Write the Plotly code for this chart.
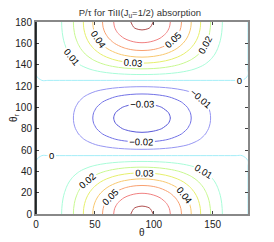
import plotly.graph_objects as go

# grid angles (degrees)
theta = list(range(0, 181, 5))
theta_r = list(range(0, 181, 5))

# theta dependence (normalised, peak at 90 deg)
shape_theta = [0.0000, 0.0076, 0.0302, 0.0670, 0.1170, 0.1786, 0.2500, 0.3290, 0.4132,
               0.5000, 0.5868, 0.6710, 0.7500, 0.8214, 0.8830, 0.9330, 0.9698, 0.9924,
               1.0000,
               0.9924, 0.9698, 0.9330, 0.8830, 0.8214, 0.7500, 0.6710, 0.5868, 0.5000,
               0.4132, 0.3290, 0.2500, 0.1786, 0.1170, 0.0670, 0.0302, 0.0076, 0.0000]

# theta_r dependence (positive near poles, zero near 55/125, negative in middle)
shape_theta_r = [1.0000, 0.9886, 0.9547, 0.8995, 0.8245, 0.7321, 0.6250, 0.5065, 0.3802,
                 0.2500, 0.1198, -0.0065, -0.1250, -0.2321, -0.3245, -0.3995, -0.4547,
                 -0.4886, -0.5000,
                 -0.4886, -0.4547, -0.3995, -0.3245, -0.2321, -0.1250, -0.0065, 0.1198,
                 0.2500, 0.3802, 0.5065, 0.6250, 0.7321, 0.8245, 0.8995, 0.9547, 0.9886,
                 1.0000]

peak = 0.072

z = [[peak * a * b for a in shape_theta] for b in shape_theta_r]

levels = [-0.03, -0.02, -0.01, 0.0, 0.01, 0.02, 0.03, 0.04, 0.05, 0.06, 0.07]
level_colors = ["#5858d8", "#7272e6", "#9696f2", "#a4eef8", "#a8fcd8", "#c8f890",
                "#e6ef6c", "#f8c870", "#f8a070", "#f08080", "#b05050"]
lo, hi = levels[0], levels[-1]
colorscale = [[(lv - lo) / (hi - lo), c] for lv, c in zip(levels, level_colors)]

xticks = [0, 50, 100, 150]
yticks = [0, 20, 40, 60, 80, 100, 120, 140, 160, 180]

fig = go.Figure()
fig.add_trace(go.Contour(
    x=theta, y=theta_r, z=z,
    contours=dict(start=lo, end=hi, size=0.01, coloring="lines", showlabels=True,
                  labelfont=dict(size=9.5, color="black", family="Liberation Sans")),
    colorscale=colorscale, zmin=lo, zmax=hi,
    line=dict(width=1, smoothing=1),
    showscale=False, hoverinfo="skip",
))

font = dict(family="Liberation Sans, Arial, sans-serif", size=10, color="#222")
fig.update_layout(
    width=274, height=242,
    margin=dict(l=28, r=34, t=14, b=36, autoexpand=False),
    paper_bgcolor="white", plot_bgcolor="white",
    font=font,
    title=dict(text="P/τ for TiII(J<sub>u</sub>=1/2) absorption", xref="paper", x=0.49,
               xanchor="center", yref="container", y=0.979, yanchor="middle",
               font=dict(size=9.5, color="#333")),
    showlegend=False,
)
fig.update_xaxes(range=[0, 180], tickvals=xticks, ticks="inside", ticklen=3,
                 tickcolor="#444", showline=True, linecolor="#888", linewidth=1.5,
                 mirror="ticks", showgrid=False, zeroline=False, automargin=False,
                 tickfont=dict(size=10))
fig.update_yaxes(range=[0, 180], tickvals=yticks, ticks="inside", ticklen=3,
                 tickcolor="#444", showline=True, linecolor="#888", linewidth=2,
                 mirror="ticks", showgrid=False, zeroline=False, automargin=False,
                 tickfont=dict(size=10))
fig.add_shape(type="line", xref="paper", yref="paper", x0=0, x1=0, y0=0, y1=1,
              line=dict(color="black", width=1.5))
fig.add_annotation(text="θ", xref="paper", yref="paper", x=0.5, y=0, yshift=-18,
                   xanchor="center", yanchor="middle", showarrow=False,
                   font=dict(size=10, color="#222"))
fig.add_annotation(text="θ<sub>r</sub>", xref="paper", yref="paper", x=0, xshift=-22,
                   y=0.5, xanchor="center", yanchor="middle", textangle=-90,
                   showarrow=False, font=dict(size=10, color="#222"))

fig.write_html("out.html")
